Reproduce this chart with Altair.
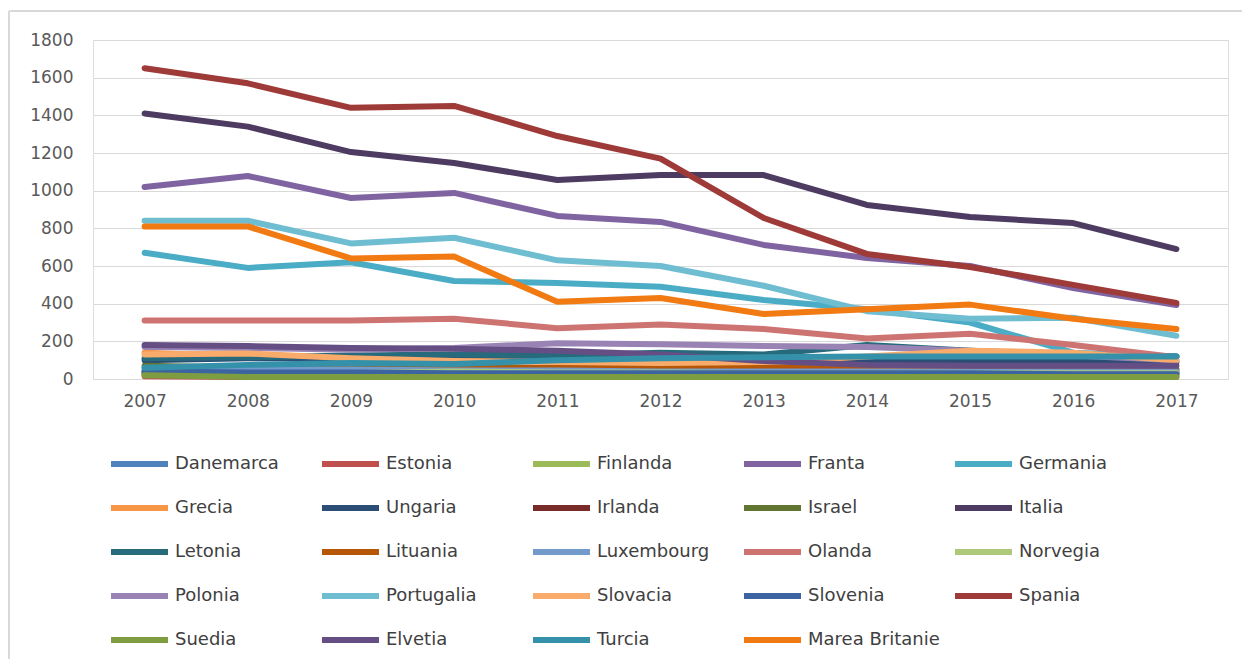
import altair as alt
import pandas as pd

years = [str(y) for y in range(2007, 2018)]

countries = ["Danemarca", "Estonia", "Finlanda", "Franta", "Germania",
             "Grecia", "Ungaria", "Irlanda", "Israel", "Italia",
             "Letonia", "Lituania", "Luxembourg", "Olanda", "Norvegia",
             "Polonia", "Portugalia", "Slovacia", "Slovenia", "Spania",
             "Suedia", "Elvetia", "Turcia", "Marea Britanie"]

colors = ["#4F81BD", "#C0504D", "#9BBB59", "#8064A2", "#4BACC6",
          "#F79646", "#2C4D75", "#772C2A", "#5F7530", "#4D3B62",
          "#276A7C", "#B65708", "#729ACA", "#CD7371", "#AFC97A",
          "#9983B5", "#6FBDD1", "#F9AB6B", "#3B64A0", "#9E3B38",
          "#7E9C40", "#654E84", "#3491A9", "#F27A12"]

danemarca = [45, 40, 40, 35, 35, 35, 35, 30, 30, 30, 30]
estonia = [15, 10, 10, 10, 10, 10, 10, 10, 10, 10, 10]
finlanda = [25, 20, 20, 20, 20, 20, 20, 20, 20, 20, 20]
franta = [1020, 1078, 961, 988, 866, 834, 712, 643, 600, 483, 393]
germania = [670, 590, 620, 520, 510, 490, 420, 370, 300, 140, 120]
grecia = [140, 120, 100, 80, 100, 95, 80, 90, 80, 60, 50]
ungaria = [100, 110, 110, 115, 110, 105, 100, 95, 95, 95, 90]
irlanda = [30, 25, 25, 30, 45, 50, 50, 45, 40, 35, 30]
israel = [70, 60, 60, 60, 60, 55, 55, 50, 50, 50, 50]
italia = [1410, 1340, 1205, 1147, 1057, 1083, 1083, 924, 860, 828, 690]
letonia = [110, 115, 125, 130, 125, 140, 130, 180, 150, 130, 120]
lituania = [35, 40, 50, 55, 60, 65, 60, 55, 50, 45, 40]
luxembourg = [60, 50, 50, 45, 45, 40, 40, 40, 40, 40, 40]
olanda = [310, 310, 310, 320, 270, 290, 265, 215, 240, 180, 115]
norvegia = [30, 30, 30, 40, 35, 35, 30, 30, 30, 30, 30]
polonia = [170, 165, 155, 165, 190, 185, 175, 170, 150, 125, 100]
portugalia = [840, 840, 720, 750, 630, 600, 495, 360, 320, 325, 230]
slovacia = [130, 135, 110, 95, 90, 85, 90, 120, 150, 140, 100]
slovenia = [40, 35, 35, 30, 30, 30, 30, 30, 30, 25, 25]
spania = [1650, 1570, 1440, 1450, 1290, 1170, 855, 664, 595, 500, 404]
suedia = [20, 10, 10, 10, 10, 10, 10, 10, 10, 10, 10]
elvetia = [180, 175, 165, 160, 150, 130, 95, 75, 70, 70, 70]
turcia = [60, 75, 85, 80, 100, 110, 115, 120, 120, 120, 120]
marea_britanie = [810, 810, 640, 650, 410, 430, 345, 370, 395, 320, 265]

series = [danemarca, estonia, finlanda, franta, germania, grecia, ungaria,
          irlanda, israel, italia, letonia, lituania, luxembourg, olanda,
          norvegia, polonia, portugalia, slovacia, slovenia, spania, suedia,
          elvetia, turcia, marea_britanie]

y_ticks = [0, 200, 400, 600, 800, 1000, 1200, 1400, 1600, 1800]

rows = []
for i, (c, vals) in enumerate(zip(countries, series)):
    for y, v in zip(years, vals):
        rows.append({"Tara": c, "An": y, "Valoare": v, "idx": i})
df = pd.DataFrame(rows)

lines = alt.Chart(df).mark_line(strokeWidth=6, strokeCap="round", strokeJoin="round").encode(
    x=alt.X("An:O", sort=years,
            scale=alt.Scale(padding=0.5),
            axis=alt.Axis(title=None, labelAngle=0, ticks=False, domain=False, grid=False,
                          labelFont="DejaVu Sans", labelFontSize=17, labelColor="#595959",
                          labelPadding=14)),
    y=alt.Y("Valoare:Q",
            scale=alt.Scale(domain=[0, 1800], nice=False),
            axis=alt.Axis(title=None, values=y_ticks, format="d", ticks=False, domain=False,
                          gridColor="#d9d9d9", gridWidth=1.2,
                          labelFont="DejaVu Sans", labelFontSize=17, labelColor="#595959",
                          labelPadding=20)),
    color=alt.Color("Tara:N", sort=countries,
                    scale=alt.Scale(domain=countries, range=colors),
                    legend=alt.Legend(title=None, orient="none", legendX=15, legendY=414,
                                      direction="horizontal",
                                      columns=5, gridAlign="all", columnPadding=12,
                                      rowPadding=24, padding=0, clipHeight=20,
                                      symbolType="stroke", symbolSize=3249,
                                      symbolStrokeWidth=6, labelOffset=4,
                                      labelFont="DejaVu Sans", labelFontSize=18,
                                      labelColor="#404040", labelLimit=400)),
    detail="Tara:N",
    order=alt.Order("An:O"),
)

border_top = alt.Chart(df).mark_rule(color="#d9d9d9", strokeWidth=1.5).encode(
    x=alt.value(-84), x2=alt.value(1160), y=alt.value(-29)
)
border_left = alt.Chart(df).mark_rule(color="#d9d9d9", strokeWidth=1.5).encode(
    x=alt.value(-84), y=alt.value(-29), y2=alt.value(700)
)

chart = alt.layer(border_top, border_left, lines).properties(
    width=1135, height=339,
    autosize=alt.AutoSizeParams(type="none"),
    padding={"left": 85, "top": 32, "right": 14, "bottom": 280},
).configure_view(stroke=None).configure(background="white")

chart.save("out.html", embed_options={"renderer": "svg", "actions": False})
